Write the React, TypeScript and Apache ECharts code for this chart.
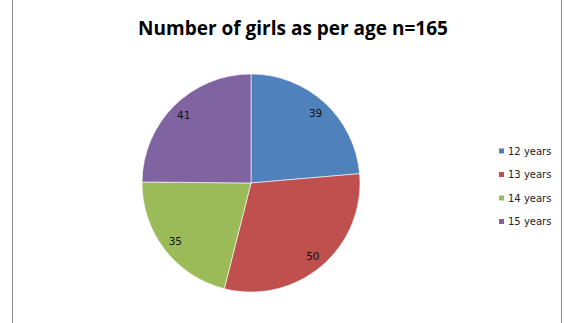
import React, { useEffect, useRef } from "react";
import * as echarts from "echarts";

const categories = ["12 years", "13 years", "14 years", "15 years"];
const values = [39, 50, 35, 41];
const colors = ["#4F81BD", "#C0504D", "#9BBB59", "#8064A2"];
const titleText = "Number of girls as per age n=165";

export default function App() {
  const ref = useRef<HTMLDivElement>(null);
  useEffect(() => {
    if (!ref.current) return;
    const chart = echarts.init(ref.current, undefined, { renderer: "svg" });
    const data = categories.map((name, i) => ({ name, value: values[i] }));
    chart.setOption({
      animation: false,
      backgroundColor: "#ffffff",
      color: colors,
      title: {
        text: titleText,
        left: 288,
        top: 13,
        textAlign: "center",
        textStyle: {
          fontFamily: "Open Sans",
          fontWeight: "bold",
          fontSize: 19,
          color: "#000000",
        },
      },
      legend: {
        orient: "vertical",
        left: 492,
        top: 141,
        itemWidth: 7,
        itemHeight: 7,
        itemGap: 13.5,
        icon: "rect",
        textStyle: { fontFamily: "DejaVu Sans", fontSize: 10, color: "#222", padding: [0, 0, 0, -2] },
        data: categories,
      },
      graphic: [
        { type: "line", shape: { x1: 12.5, y1: 0, x2: 12.5, y2: 323 }, style: { stroke: "#8c8c8c", lineWidth: 1 } },
        { type: "line", shape: { x1: 561.5, y1: 0, x2: 561.5, y2: 323 }, style: { stroke: "#8c8c8c", lineWidth: 1 } },
      ],
      series: [
        {
          type: "pie",
          center: [251, 183],
          radius: [0, 109],
          startAngle: 90,
          clockwise: true,
          silent: true,
          label: { show: false },
          labelLine: { show: false },
          itemStyle: { borderColor: "#ffffff", borderWidth: 0.6 },
          data,
        },
        {
          type: "pie",
          center: [251, 183],
          radius: [76, 109],
          startAngle: 90,
          clockwise: true,
          silent: true,
          legendHoverLink: false,
          itemStyle: { color: "rgba(0,0,0,0)", borderWidth: 0 },
          label: {
            show: true,
            position: "inside",
            formatter: "{c}",
            fontFamily: "DejaVu Sans",
            fontSize: 10.5,
            color: "#111",
          },
          labelLine: { show: false },
          data,
        },
      ],
    });
    return () => chart.dispose();
  }, []);
  return <div ref={ref} style={{ position: "fixed", left: 0, top: 0, width: 564, height: 323 }} />;
}
